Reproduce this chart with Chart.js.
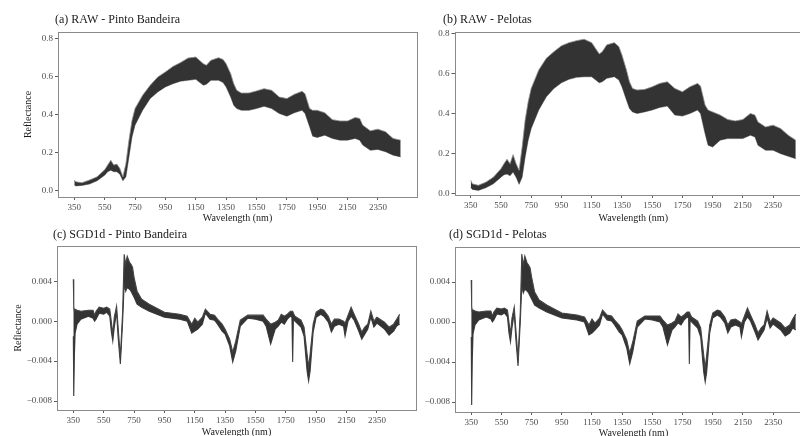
<!DOCTYPE html>
<html>
<head>
<meta charset="utf-8">
<script src="https://cdn.jsdelivr.net/npm/chart.js@4.4.0/dist/chart.umd.min.js"></script>
<style>
  html, body { margin: 0; padding: 0; background: #fff; overflow: hidden; width: 800px; height: 436px; }
  canvas { position: absolute; }
</style>
</head>
<body>
<canvas id="rawPb" width="420" height="224" style="left:0;top:0"></canvas>
<canvas id="rawPel" width="420" height="224" style="left:400px;top:0"></canvas>
<canvas id="sgdPb" width="420" height="220" style="left:0;top:222px"></canvas>
<canvas id="sgdPel" width="420" height="220" style="left:400px;top:222px"></canvas>
<script>
// wavelength ticks shared by all panels
const xTicks = [350, 550, 750, 950, 1150, 1350, 1550, 1750, 1950, 2150, 2350];
const rawTicks = [0, 0.2, 0.4, 0.6, 0.8];
const sgdTicks = [-0.008, -0.004, 0, 0.004];

// RAW spectra: envelope of the sample bundle (upper / lower edge)
const rawWl = [350, 360, 400, 450, 500, 550, 570, 590, 610, 630, 650, 670, 690, 710, 730, 750, 800, 850, 900, 950,
  1000, 1050, 1100, 1150, 1200, 1220, 1250, 1300, 1330, 1350, 1380, 1400, 1420, 1450, 1500, 1550, 1600, 1650, 1700, 1750,
  1800, 1850, 1870, 1900, 1920, 1950, 2000, 2050, 2100, 2150, 2200, 2230, 2250, 2300, 2350, 2400, 2450, 2500];

const rawPbUpper = [0.056, 0.047, 0.042, 0.056, 0.073, 0.110, 0.135, 0.160, 0.135, 0.140, 0.117, 0.073, 0.143, 0.266, 0.370, 0.432, 0.502, 0.555, 0.598, 0.625,
  0.654, 0.674, 0.698, 0.703, 0.668, 0.660, 0.686, 0.700, 0.690, 0.668, 0.616, 0.563, 0.528, 0.514, 0.514, 0.525, 0.537, 0.528, 0.493, 0.485,
  0.507, 0.523, 0.510, 0.432, 0.423, 0.423, 0.410, 0.374, 0.367, 0.367, 0.385, 0.380, 0.345, 0.315, 0.324, 0.310, 0.275, 0.266];
const rawPbLower = [0.030, 0.025, 0.028, 0.035, 0.052, 0.082, 0.100, 0.108, 0.100, 0.100, 0.087, 0.052, 0.073, 0.178, 0.283, 0.345, 0.423, 0.485, 0.520, 0.546,
  0.563, 0.576, 0.581, 0.586, 0.555, 0.560, 0.581, 0.581, 0.569, 0.546, 0.493, 0.450, 0.432, 0.423, 0.423, 0.432, 0.444, 0.432, 0.406, 0.392,
  0.410, 0.423, 0.406, 0.336, 0.287, 0.280, 0.292, 0.275, 0.266, 0.266, 0.275, 0.266, 0.240, 0.213, 0.217, 0.205, 0.187, 0.178];

const rawPelUpper = [0.067, 0.050, 0.042, 0.058, 0.083, 0.125, 0.150, 0.172, 0.150, 0.195, 0.150, 0.117, 0.233, 0.367, 0.458, 0.525, 0.617, 0.675, 0.708, 0.737,
  0.753, 0.763, 0.770, 0.753, 0.697, 0.708, 0.742, 0.753, 0.733, 0.692, 0.617, 0.558, 0.525, 0.517, 0.520, 0.533, 0.550, 0.558, 0.525, 0.508,
  0.533, 0.550, 0.537, 0.442, 0.417, 0.408, 0.392, 0.370, 0.363, 0.370, 0.400, 0.392, 0.358, 0.333, 0.342, 0.325, 0.292, 0.267];
const rawPelLower = [0.033, 0.022, 0.017, 0.030, 0.050, 0.083, 0.095, 0.098, 0.090, 0.108, 0.083, 0.047, 0.083, 0.183, 0.267, 0.325, 0.417, 0.483, 0.525, 0.553,
  0.570, 0.580, 0.583, 0.583, 0.553, 0.558, 0.575, 0.583, 0.567, 0.533, 0.467, 0.425, 0.408, 0.400, 0.408, 0.417, 0.430, 0.437, 0.392, 0.387,
  0.400, 0.417, 0.400, 0.300, 0.242, 0.233, 0.267, 0.275, 0.275, 0.275, 0.292, 0.283, 0.242, 0.217, 0.217, 0.200, 0.187, 0.175];

// Savitzky-Golay 1st derivative: envelope of the bundle
const sgdWl = [350, 353, 357, 362, 375, 400, 450, 480, 490, 500, 520, 550, 570, 590, 600, 610, 620, 635, 645, 660,
  675, 685, 695, 705, 720, 730, 740, 750, 770, 800, 850, 900, 950, 1000, 1050, 1100, 1130, 1150, 1170, 1200,
  1220, 1250, 1280, 1300, 1330, 1350, 1380, 1400, 1420, 1450, 1500, 1550, 1600, 1620, 1650, 1680, 1700, 1720, 1740, 1760,
  1780, 1790, 1795, 1800, 1810, 1850, 1870, 1890, 1900, 1910, 1930, 1950, 1980, 2000, 2030, 2050, 2070, 2100, 2130, 2140,
  2160, 2180, 2200, 2230, 2250, 2270, 2290, 2310, 2330, 2350, 2400, 2430, 2460, 2480, 2500];

const sgdPbUpper = [0.0042, 0.0015, 0.0010, 0.0012, 0.0011, 0.0010, 0.0011, 0.0011, 0.0006, 0.0010, 0.0014, 0.0013, 0.0014, 0.0012, 0.0000, -0.0013, 0.0004, 0.0015, -0.0006, -0.0036,
  0.0010, 0.0067, 0.0057, 0.0065, 0.0059, 0.0057, 0.0054, 0.0044, 0.0030, 0.0022, 0.0017, 0.0013, 0.0009, 0.0008, 0.0007, 0.0005, -0.0003, 0.0003, -0.0001, 0.0004,
  0.0012, 0.0007, 0.0006, 0.0002, -0.0003, -0.0008, -0.0018, -0.0031, -0.0020, 0.0001, 0.0006, 0.0006, 0.0006, 0.0002, -0.0003, -0.0001, 0.0001, 0.0007, 0.0005, 0.0007,
  0.0010, 0.0010, 0.0010, 0.0008, 0.0005, 0.0001, -0.0006, -0.0033, -0.0046, -0.0033, -0.0003, 0.0009, 0.0012, 0.0011, 0.0005, -0.0003, 0.0002, 0.0002, 0.0000, -0.0002,
  0.0006, 0.0014, 0.0007, -0.0003, -0.0011, -0.0006, -0.0003, 0.0010, 0.0000, 0.0004, -0.0001, -0.0006, -0.0003, 0.0002, 0.0007];
const sgdPbLower = [-0.0015, -0.0075, -0.0035, -0.0012, -0.0003, 0.0002, 0.0005, 0.0003, 0.0000, 0.0002, 0.0008, 0.0007, 0.0009, 0.0005, -0.0010, -0.0020, -0.0006, 0.0009, -0.0016, -0.0043,
  0.0000, 0.0037, 0.0030, 0.0034, 0.0032, 0.0030, 0.0027, 0.0024, 0.0017, 0.0014, 0.0010, 0.0007, 0.0004, 0.0003, 0.0002, 0.0000, -0.0012, -0.0010, -0.0008, -0.0003,
  0.0008, 0.0002, 0.0001, -0.0003, -0.0010, -0.0013, -0.0025, -0.0041, -0.0030, -0.0005, 0.0003, 0.0002, 0.0000, -0.0005, -0.0023, -0.0008, -0.0005, -0.0001, -0.0003, 0.0002,
  0.0005, 0.0004, -0.0041, 0.0002, 0.0000, -0.0006, -0.0015, -0.0050, -0.0060, -0.0050, -0.0011, 0.0004, 0.0007, 0.0005, -0.0001, -0.0011, -0.0005, -0.0003, -0.0005, -0.0015,
  0.0000, 0.0005, 0.0001, -0.0010, -0.0018, -0.0013, -0.0008, 0.0004, -0.0006, -0.0002, -0.0008, -0.0014, -0.0010, -0.0005, -0.0003];

const sgdPelUpper = [0.0042, 0.0016, 0.0011, 0.0012, 0.0011, 0.0010, 0.0011, 0.0011, 0.0006, 0.0010, 0.0014, 0.0013, 0.0014, 0.0012, 0.0000, -0.0012, 0.0004, 0.0015, -0.0006, -0.0036,
  0.0010, 0.0068, 0.0057, 0.0066, 0.0059, 0.0057, 0.0054, 0.0045, 0.0030, 0.0022, 0.0017, 0.0013, 0.0009, 0.0008, 0.0007, 0.0005, -0.0003, 0.0003, -0.0001, 0.0004,
  0.0012, 0.0007, 0.0006, 0.0002, -0.0003, -0.0008, -0.0018, -0.0031, -0.0020, 0.0001, 0.0006, 0.0006, 0.0006, 0.0002, -0.0003, -0.0001, 0.0001, 0.0008, 0.0005, 0.0007,
  0.0010, 0.0010, 0.0010, 0.0008, 0.0005, 0.0001, -0.0006, -0.0033, -0.0046, -0.0033, -0.0003, 0.0009, 0.0012, 0.0011, 0.0005, -0.0003, 0.0002, 0.0003, 0.0000, -0.0002,
  0.0006, 0.0014, 0.0007, -0.0003, -0.0011, -0.0006, -0.0003, 0.0011, 0.0000, 0.0004, -0.0001, -0.0006, -0.0003, 0.0003, 0.0008];
const sgdPelLower = [-0.0015, -0.0083, -0.0038, -0.0012, -0.0003, 0.0002, 0.0005, 0.0003, 0.0000, 0.0002, 0.0008, 0.0007, 0.0009, 0.0005, -0.0011, -0.0020, -0.0006, 0.0009, -0.0016, -0.0044,
  0.0000, 0.0036, 0.0029, 0.0033, 0.0031, 0.0029, 0.0026, 0.0023, 0.0017, 0.0014, 0.0010, 0.0007, 0.0004, 0.0003, 0.0002, 0.0000, -0.0013, -0.0011, -0.0008, -0.0003,
  0.0008, 0.0002, 0.0001, -0.0003, -0.0010, -0.0013, -0.0026, -0.0042, -0.0030, -0.0005, 0.0003, 0.0002, 0.0000, -0.0005, -0.0023, -0.0008, -0.0005, -0.0001, -0.0003, 0.0002,
  0.0005, 0.0004, -0.0042, 0.0002, 0.0000, -0.0006, -0.0015, -0.0050, -0.0060, -0.0050, -0.0011, 0.0004, 0.0007, 0.0005, -0.0001, -0.0011, -0.0005, -0.0003, -0.0005, -0.0015,
  0.0000, 0.0005, 0.0001, -0.0010, -0.0018, -0.0013, -0.0008, 0.0004, -0.0006, -0.0002, -0.0008, -0.0014, -0.0011, -0.0006, -0.0008];

Chart.defaults.font.family = '"Liberation Serif", "DejaVu Serif", serif';
Chart.defaults.color = '#4d4d4d';

// panel frame + panel title (a), (b), ...
const panelDecor = {
  id: 'panelDecor',
  afterDraw(chart, args, opts) {
    const { ctx, chartArea: a } = chart;
    ctx.save();
    ctx.strokeStyle = '#8a8a8a';
    ctx.lineWidth = 1;
    ctx.strokeRect(Math.round(a.left) + 0.5, Math.round(a.top) + 0.5, Math.round(a.right - a.left), Math.round(a.bottom - a.top));
    ctx.fillStyle = '#1a1a1a';
    ctx.font = '12px "Liberation Serif", serif';
    ctx.textBaseline = 'middle';
    ctx.fillText(opts.text, opts.x, opts.y);
    ctx.restore();
  }
};

const toPts = (wl, vals) => wl.map((w, i) => ({ x: w, y: vals[i] }));

function makePanel(id, p) {
  const edge = p.raw ? '#8f8f8f' : '#444';
  const bw = p.raw ? 0.8 : 1.1;
  return new Chart(document.getElementById(id), {
    type: 'line',
    data: {
      datasets: [
        { data: toPts(p.wl, p.upper), borderColor: edge, borderWidth: bw, backgroundColor: '#333', fill: '+1', pointRadius: 0, tension: 0 },
        { data: toPts(p.wl, p.lower), borderColor: edge, borderWidth: bw, fill: false, pointRadius: 0, tension: 0 }
      ]
    },
    options: {
      responsive: false,
      animation: false,
      events: [],
      layout: { padding: { left: 0, right: p.padRight, top: p.padTop, bottom: 0 } },
      plugins: {
        legend: { display: false },
        tooltip: { enabled: false },
        panelDecor: { text: p.title, x: p.titleX, y: p.titleY }
      },
      scales: {
        x: {
          type: 'linear',
          min: 242.5,
          max: 2607.5,
          afterBuildTicks: s => { s.ticks = xTicks.map(v => ({ value: v })); },
          afterFit: s => { s.height = p.xH; },
          grid: { drawOnChartArea: false, drawTicks: true, tickLength: 3, color: '#333', lineWidth: 0.8 },
          border: { display: false },
          ticks: { font: { size: 9 }, padding: 2, maxRotation: 0, autoSkip: false, callback: v => String(v) },
          title: { display: true, text: 'Wavelength (nm)', font: { size: 10 }, color: '#1a1a1a', padding: { top: 0, bottom: p.xTitlePad } }
        },
        y: {
          min: p.yMin,
          max: p.yMax,
          afterBuildTicks: s => { s.ticks = p.yTicks.map(v => ({ value: v })); },
          afterFit: s => { s.width = p.yW; },
          grid: { drawOnChartArea: false, drawTicks: true, tickLength: 3, color: '#333', lineWidth: 0.8 },
          border: { display: false },
          ticks: { font: { size: 9 }, padding: 2, callback: p.fmt },
          title: { display: p.yTitle, text: 'Reflectance', font: { size: 10 }, color: '#1a1a1a', padding: { top: p.yTitlePad, bottom: 0 } }
        }
      }
    },
    plugins: [panelDecor]
  });
}

const rawFmt = v => v.toFixed(1);
const sgdFmt = v => (v < 0 ? '\u2212' : '') + Math.abs(v).toFixed(3);

makePanel('rawPb', {
  raw: true, wl: rawWl, upper: rawPbUpper, lower: rawPbLower,
  title: '(a) RAW - Pinto Bandeira', titleX: 55, titleY: 20,
  padTop: 32, padRight: 3, xH: 27, yW: 58, xTitlePad: 0,
  yMin: -0.033, yMax: 0.835, yTicks: rawTicks, fmt: rawFmt, yTitle: true, yTitlePad: 22
});
makePanel('rawPel', {
  raw: true, wl: rawWl, upper: rawPelUpper, lower: rawPelLower,
  title: '(b) RAW - Pelotas', titleX: 43, titleY: 20,
  padTop: 32, padRight: 8, xH: 29, yW: 54.5, xTitlePad: 0,
  yMin: -0.006, yMax: 0.806, yTicks: rawTicks, fmt: rawFmt, yTitle: false, yTitlePad: 0
});
makePanel('sgdPb', {
  raw: false, wl: sgdWl, upper: sgdPbUpper, lower: sgdPbLower,
  title: '(c) SGD1d - Pinto Bandeira', titleX: 53, titleY: 13,
  padTop: 24, padRight: 4, xH: 32, yW: 57, xTitlePad: 4,
  yMin: -0.0089, yMax: 0.00753, yTicks: sgdTicks, fmt: sgdFmt, yTitle: true, yTitlePad: 12
});
makePanel('sgdPel', {
  raw: false, wl: sgdWl, upper: sgdPelUpper, lower: sgdPelLower,
  title: '(d) SGD1d - Pelotas', titleX: 49, titleY: 13,
  padTop: 25, padRight: 8, xH: 30, yW: 55, xTitlePad: 3,
  yMin: -0.009, yMax: 0.0075, yTicks: sgdTicks, fmt: sgdFmt, yTitle: false, yTitlePad: 0
});
</script>
</body>
</html>
